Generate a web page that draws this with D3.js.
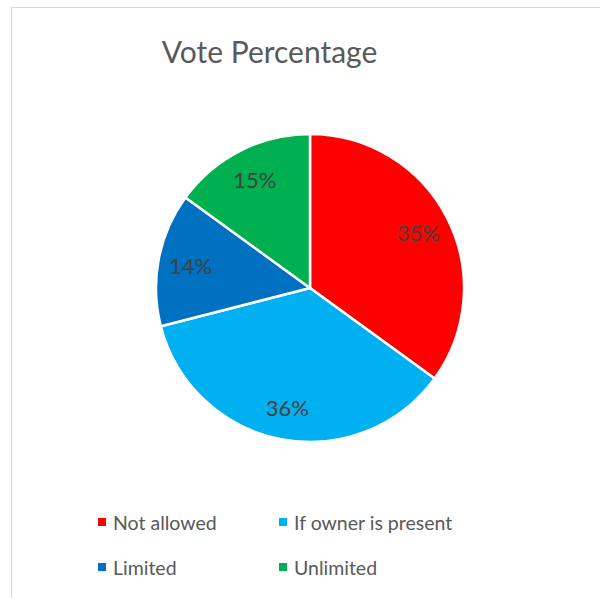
<!DOCTYPE html>
<html>
<head>
<meta charset="utf-8">
<script src="https://cdn.jsdelivr.net/npm/d3@7"></script>
<style>
  html, body { margin: 0; padding: 0; background: #ffffff; }
  svg { display: block; }
  text { font-family: Lato, "Open Sans", sans-serif; }
</style>
</head>
<body>
<svg id="chart" width="600" height="598"></svg>
<script>
// Vote shares by rule
const categories = ["Not allowed", "If owner is present", "Limited", "Unlimited"];
const values = [35, 36, 14, 15];
const colors = ["#ff0000", "#00b0f0", "#0070c0", "#00b050"];
const title = "Vote Percentage";

const svg = d3.select("#chart");

// Chart frame
svg.append("rect")
  .attr("x", 11.5).attr("y", 7.5)
  .attr("width", 620).attr("height", 620)
  .attr("fill", "#ffffff")
  .attr("stroke", "#d9d9d9")
  .attr("stroke-width", 1);

// Title
svg.append("text")
  .attr("x", 269.5).attr("y", 63)
  .attr("text-anchor", "middle")
  .attr("font-size", 30)
  .attr("fill", "#595959")
  .text(title);

// Pie
const cx = 310, cy = 288, radius = 154;
const pie = d3.pie().sort(null).value(d => d.value);
const data = categories.map((c, i) => ({ name: c, value: values[i], color: colors[i] }));
const arcs = pie(data);
const total = d3.sum(values);

const arc = d3.arc().innerRadius(0).outerRadius(radius);
const labelArc = d3.arc().innerRadius(radius * 0.79).outerRadius(radius * 0.79);

const g = svg.append("g").attr("transform", `translate(${cx},${cy})`);

g.selectAll("path.slice")
  .data(arcs)
  .join("path")
  .attr("class", "slice")
  .attr("d", arc)
  .attr("fill", d => d.data.color)
  .attr("stroke", "#ffffff")
  .attr("stroke-width", 2.5)
  .attr("stroke-linejoin", "round");

const fmt = d3.format(".0%");
g.selectAll("text.lbl")
  .data(arcs)
  .join("text")
  .attr("class", "lbl")
  .attr("transform", d => `translate(${labelArc.centroid(d)})`)
  .attr("text-anchor", "middle")
  .attr("dominant-baseline", "central")
  .attr("font-size", 22)
  .attr("fill", "#404040")
  .text(d => fmt(d.data.value / total));

// Legend (two columns, two rows)
const legendCols = [98, 279];
const legendRows = [522, 567];
const legend = svg.append("g");
data.forEach((d, i) => {
  const x = legendCols[i % 2];
  const y = legendRows[Math.floor(i / 2)];
  legend.append("rect")
    .attr("x", x).attr("y", y - 4)
    .attr("width", 8).attr("height", 8)
    .attr("fill", d.color);
  legend.append("text")
    .attr("x", x + 15).attr("y", y)
    .attr("dominant-baseline", "central")
    .attr("font-size", 19.5)
    .attr("fill", "#595959")
    .text(d.name);
});
</script>
</body>
</html>
